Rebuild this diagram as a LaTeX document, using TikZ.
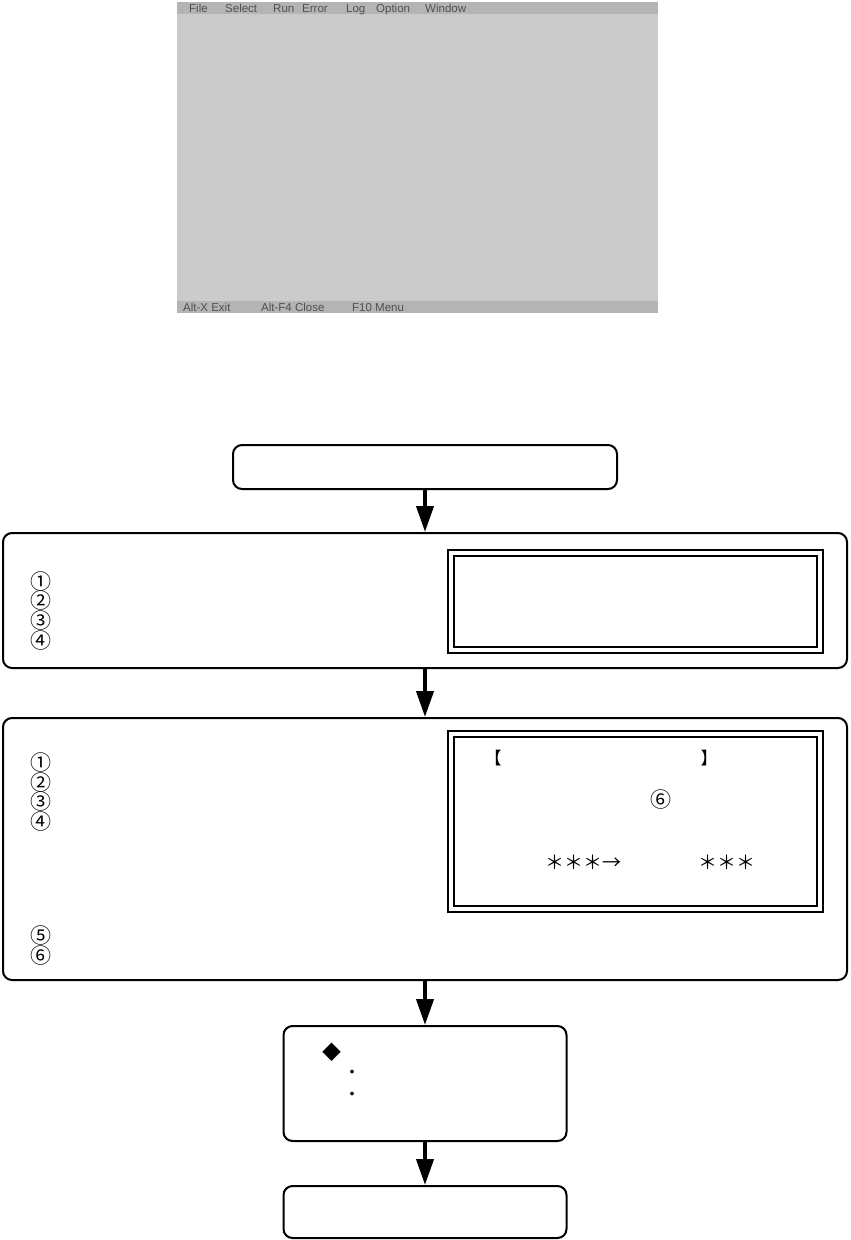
\documentclass[tikz,border=0pt]{standalone}
\usepackage{fontspec}
\newfontfamily\cjk{Noto Sans CJK JP}
\newfontfamily\menufont{Liberation Sans}
\usetikzlibrary{arrows.meta}
\definecolor{scrbody}{HTML}{CBCBCB}
\definecolor{scrbar}{HTML}{B4B4B4}
\definecolor{scrtext}{HTML}{505050}
\begin{document}
\begin{tikzpicture}[x=1pt,y=-1pt,
  flowbox/.style={draw, line width=2pt, rounded corners=9pt, inner sep=0pt},
  frameout/.style={draw, line width=2.6pt, inner sep=0pt},
  framein/.style={draw, line width=2.3pt, inner sep=0pt},
  flowarrow/.style={line width=4pt, -{Triangle[length=26pt,width=17pt]}},
  menu/.style={font=\menufont\fontsize{11.5}{12}\selectfont, text=scrtext, anchor=base west, inner sep=0pt},
  num/.style={font=\cjk\fontsize{21}{21}\selectfont, inner sep=0pt},
  cjktext/.style={font=\cjk\fontsize{17}{17}\selectfont, inner sep=0pt},
  sym/.style={font=\cjk\fontsize{19}{19}\selectfont, inner sep=0pt},
]
\useasboundingbox (0,0) rectangle (851,1240);

% screenshot
\fill[scrbody] (177,2) rectangle (658,313);
\fill[scrbar] (177,2) rectangle (658,14);
\fill[scrbar] (177,301) rectangle (658,313);
\node[menu] (m1) at (189,12) {File};
\node[menu] (m2) at (225,12) {Select};
\node[menu] (m3) at (273,12) {Run};
\node[menu] (m4) at (302,12) {Error};
\node[menu] (m5) at (346,12) {Log};
\node[menu] (m6) at (376,12) {Option};
\node[menu] (m7) at (425,12) {Window};
\node[menu] (s1) at (183,311) {Alt-X Exit};
\node[menu] (s2) at (261,311) {Alt-F4 Close};
\node[menu] (s3) at (352,311) {F10 Menu};

% flow boxes
\node[flowbox, minimum width=384pt, minimum height=44pt] (b1) at (425,467) {};
\node[flowbox, minimum width=844pt, minimum height=135pt] (b2) at (425,600.5) {};
\node[flowbox, minimum width=844pt, minimum height=262pt] (b3) at (425,849) {};
\node[flowbox, minimum width=283pt, minimum height=115pt] (b4) at (425,1083.5) {};
\node[flowbox, minimum width=283pt, minimum height=52pt] (b5) at (425,1212) {};

% double frames
\node[frameout, minimum width=375pt, minimum height=103pt] (f2o) at (635.5,601.5) {};
\node[framein, minimum width=363pt, minimum height=91pt] (f2i) at (635.5,601.5) {};
\node[frameout, minimum width=375pt, minimum height=181pt] (f3o) at (635.5,821.5) {};
\node[framein, minimum width=363pt, minimum height=169pt] (f3i) at (635.5,821.5) {};

% arrows
\draw[flowarrow] (b1.south) -- (b2.north);
\draw[flowarrow] (b2.south) -- (b3.north);
\draw[flowarrow] (b3.south) -- (b4.north);
\draw[flowarrow] (b4.south) -- (b5.north);

% box 2 texts
\node[num] (n21) at (41,582) {①};
\node[num] (n22) at (41,601) {②};
\node[num] (n23) at (41,621) {③};
\node[num] (n24) at (41,641) {④};

% box 3 texts
\node[num] (n31) at (41,763) {①};
\node[num] (n32) at (41,783) {②};
\node[num] (n33) at (41,802) {③};
\node[num] (n34) at (41,822) {④};
\node[num] (n35) at (41,936) {⑤};
\node[num] (n36) at (41,956) {⑥};
\node[cjktext] (br1) at (493,758) {【};
\node[cjktext] (br2) at (709,758) {】};
\node[num] (c6) at (661,800) {⑥};
\node[sym] (st1) at (583,862) {＊＊＊→};
\node[sym] (st2) at (727,862) {＊＊＊};

% box 4 texts
\node[sym] (dia) at (332,1052) {◆};
\node[cjktext] (dot1) at (352,1074) {・};
\node[cjktext] (dot2) at (352,1096) {・};
\end{tikzpicture}
\end{document}
